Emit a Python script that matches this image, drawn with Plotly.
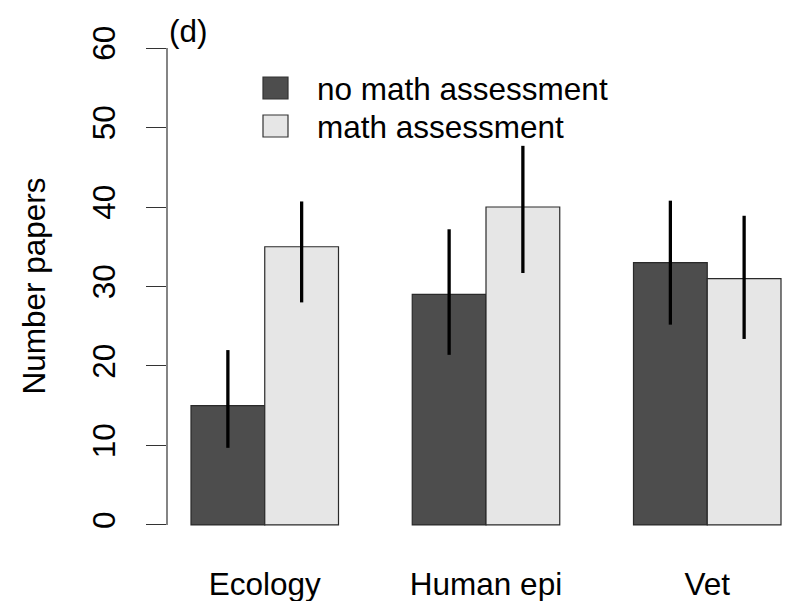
import plotly.graph_objects as go

# Data
categories = ["Ecology", "Human epi", "Vet"]
series_names = ["no math assessment", "math assessment"]
no_math = [15, 29, 33]
no_math_lower = [9.7, 21.4, 25.2]
no_math_upper = [22.0, 37.2, 40.8]
math = [35, 40, 31]
math_lower = [28.0, 31.7, 23.4]
math_upper = [40.7, 47.7, 38.9]
y_ticks = [0, 10, 20, 30, 40, 50, 60]
panel_label = "(d)"
y_title = "Number papers"

colors = ["#4d4d4d", "#e6e6e6"]
FONT = "Liberation Sans, Arial, Helvetica, sans-serif"
FS = 31.5

W, H = 786, 601
L, R, T, B = 167, 0, 29, 57
PW, PH = W - L - R, H - T - B


def px_x(p):
    return (p - L) / PW


def px_y(p):
    return 1 - (p - T) / PH


# barplot-style positions: groups of two unit-wide bars separated by one unit gap
n = len(categories)
left_x = [3 * i + 1.5 for i in range(n)]
right_x = [3 * i + 2.5 for i in range(n)]
centers = [3 * i + 2 for i in range(n)]

fig = go.Figure()
series = [
    (no_math, no_math_lower, no_math_upper, left_x),
    (math, math_lower, math_upper, right_x),
]
for k, (vals, lo, hi, xs) in enumerate(series):
    fig.add_trace(go.Bar(
        x=xs, y=vals, width=1, name=series_names[k],
        marker=dict(color=colors[k], line=dict(color="#2a2a2a", width=1.2)),
        error_y=dict(type="data", symmetric=False,
                     array=[h - v for h, v in zip(hi, vals)],
                     arrayminus=[v - l for v, l in zip(vals, lo)],
                     color="#000000", thickness=3.3, width=0),
        showlegend=False,
    ))

x_left = 1 - (191 - L) / 73.75
fig.update_xaxes(range=[x_left, x_left + PW / 73.75], tickvals=centers,
                 ticktext=categories, ticks="", showgrid=False, zeroline=False,
                 showline=False, tickfont=dict(family=FONT, size=FS, color="#000"),
                 ticklabelstandoff=18)
fig.update_yaxes(range=[-2.4, 62.4], tickvals=y_ticks, ticks="outside", ticklen=20,
                 tickwidth=1.2, tickcolor="#333333", tickangle=-90, showgrid=False,
                 zeroline=False, showline=False,
                 tickfont=dict(family=FONT, size=FS, color="#000"),
                 ticklabelstandoff=18)

shapes = [dict(type="line", xref="paper", yref="y", x0=0, x1=0,
               y0=y_ticks[0], y1=y_ticks[-1], line=dict(color="#333333", width=1.2))]
annotations = [
    dict(text=y_title, xref="paper", yref="paper", x=px_x(33), y=0.5,
         textangle=-90, showarrow=False, xanchor="center", yanchor="middle",
         font=dict(family=FONT, size=FS, color="#000")),
    dict(text=panel_label, xref="paper", yref="paper", x=px_x(167), y=px_y(31),
         showarrow=False, xanchor="left", yanchor="middle",
         font=dict(family=FONT, size=FS, color="#000")),
]
# legend: swatches and labels
rows = [88, 126]
for k, name in enumerate(series_names):
    cy = rows[k]
    shapes.append(dict(type="rect", xref="paper", yref="paper",
                       x0=px_x(263), x1=px_x(288), y0=px_y(cy - 11), y1=px_y(cy + 11),
                       fillcolor=colors[k], line=dict(color="#333333", width=1.2)))
    annotations.append(dict(text=name, xref="paper", yref="paper", x=px_x(315),
                            y=px_y(cy + 1), showarrow=False, xanchor="left",
                            yanchor="middle",
                            font=dict(family=FONT, size=FS, color="#000")))

fig.update_layout(width=W, height=H, margin=dict(l=L, r=R, t=T, b=B, pad=0),
                  plot_bgcolor="white", paper_bgcolor="white", barmode="overlay",
                  shapes=shapes, annotations=annotations, showlegend=False)

fig.write_html("out.html")
